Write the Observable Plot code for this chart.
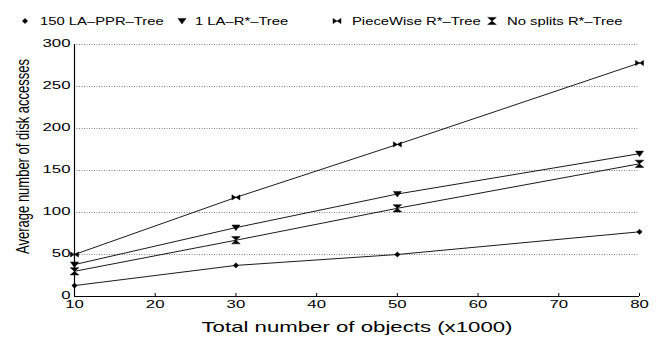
<!DOCTYPE html>
<html>
<head>
<meta charset="utf-8">
<script src="https://cdn.jsdelivr.net/npm/d3@7"></script>
<script src="https://cdn.jsdelivr.net/npm/@observablehq/plot@0.6"></script>
<style>
  body { margin: 0; background: #fff; font-family: "Liberation Sans", Arial, sans-serif; }
  #wrap { position: relative; width: 662px; height: 337px; overflow: hidden; }
  #legend { position: relative; width: 662px; height: 30px; }
  .lg-m { position: absolute; top: 14.7px; width: 12px; height: 12px; }
  .lg-t { position: absolute; top: 15px; font-size: 10.5px; line-height: 12px; white-space: nowrap;
          transform: scaleX(1.41); transform-origin: 0 50%; color: #000; }
  #chart svg { display: block; overflow: visible; }
</style>
</head>
<body>
<div id="wrap">
  <div id="legend"></div>
  <div id="chart"></div>
</div>
<script>
// ---- data ----
const xValues = [10, 30, 50, 80];
const seriesNames = ["150 LA–PPR–Tree", "1 LA–R*–Tree", "PieceWise R*–Tree", "No splits R*–Tree"];
const pprValues = [13, 37, 50, 77];
const laValues = [38, 82, 122, 170];
const pieceValues = [50, 118, 181, 278];
const nosplitValues = [30, 67, 105, 158];
const xTicks = [10, 20, 30, 40, 50, 60, 70, 80];
const yTicks = [0, 50, 100, 150, 200, 250, 300];
const xLabel = "Total number of objects (x1000)";
const yLabel = "Average number of disk accesses";

const seriesValues = [pprValues, laValues, pieceValues, nosplitValues];
const data = seriesNames.flatMap((s, i) => seriesValues[i].map((v, j) => ({series: s, x: xValues[j], y: v})));

// ---- marker shapes ----
const symDiamond = {draw(c) { c.moveTo(0, -2.6); c.lineTo(2.7, 0); c.lineTo(0, 2.6); c.lineTo(-2.7, 0); c.closePath(); }};
const symTriDown = {draw(c) { c.moveTo(-4, -2.6); c.lineTo(4, -2.6); c.lineTo(0, 3); c.closePath(); }};
const symBowtie = {draw(c) { c.moveTo(-4, -2.6); c.lineTo(4, 2.6); c.lineTo(4, -2.6); c.lineTo(-4, 2.6); c.closePath(); }};
const symHourglass = {draw(c) { c.moveTo(-4.3, -3.6); c.lineTo(4.3, -3.6); c.lineTo(-4.3, 3.6); c.lineTo(4.3, 3.6); c.closePath(); }};
const symbols = [symDiamond, symTriDown, symBowtie, symHourglass];

// ---- legend ----
const legendPos = [[25, 40], [182, 195], [337, 352], [492, 507]];
const legend = document.getElementById("legend");
seriesNames.forEach((s, i) => {
  const m = d3.create("svg").attr("class", "lg-m").attr("width", 12).attr("height", 12)
    .attr("viewBox", "-6 -6 12 12").style("left", (legendPos[i][0] - 6) + "px");
  const p = d3.path(); symbols[i].draw(p);
  m.append("path").attr("d", p.toString()).attr("fill", "#000").attr("stroke", "#000").attr("stroke-width", 0.5);
  legend.append(m.node());
  const t = document.createElement("div");
  t.className = "lg-t"; t.style.left = legendPos[i][1] + "px"; t.textContent = s;
  legend.append(t);
});

// ---- chart ----
const chart = Plot.plot({
  width: 662,
  height: 307,
  marginTop: 14,
  marginBottom: 41,
  marginLeft: 74,
  marginRight: 23,
  style: {fontFamily: "'Liberation Sans', Arial, sans-serif", fontSize: "10.5px", color: "#000", background: "#fff"},
  x: {domain: [10, 80]},
  y: {domain: [0, 300]},
  marks: [
    Plot.gridY(yTicks.filter(d => d > 0), {stroke: "#000", strokeOpacity: 0.6, strokeDasharray: "1,1.5", strokeWidth: 0.8}),
    Plot.ruleY([0], {stroke: "#000", strokeWidth: 1.2}),
    Plot.ruleX([10], {stroke: "#000", strokeWidth: 1.2}),
    Plot.axisX({ticks: xTicks, tickSize: -3, tickPadding: 7, label: null, tickFormat: d => String(d)}),
    Plot.axisY({ticks: yTicks, tickSize: 0, tickPadding: 4, dy: -1, label: null, tickFormat: d => String(d)}),
    Plot.line(data, {x: "x", y: "y", z: "series", stroke: "#000", strokeWidth: 0.9}),
    ...seriesNames.map((s, i) => Plot.dot(data, {filter: d => d.series === s, x: "x", y: "y", symbol: symbols[i], fill: "#000", stroke: "#000", strokeWidth: 0.5})),
    Plot.text([xLabel], {frameAnchor: "bottom", dy: 35, fontSize: 15, text: d => d}),
    Plot.text([yLabel], {frameAnchor: "left", textAnchor: "middle", rotate: -90, dx: -52, dy: -14, fontSize: 13, text: d => d})
  ]
});
document.getElementById("chart").append(chart);

// horizontal stretch of text, as in the reference rendering
function stretch(t, k) {
  const len = t.getComputedTextLength();
  t.setAttribute("textLength", (len * k).toFixed(2));
  t.setAttribute("lengthAdjust", "spacingAndGlyphs");
}
chart.querySelectorAll('[aria-label$="tick label"] text').forEach(t => stretch(t, 1.6));
chart.querySelectorAll('text').forEach(t => {
  if (t.textContent === xLabel) stretch(t, 1.48);
  if (t.textContent === yLabel) {
    const tr = t.getAttribute("transform") || "";
    t.setAttribute("transform", tr + " scale(1,1.45)");
  }
});
</script>
</body>
</html>
